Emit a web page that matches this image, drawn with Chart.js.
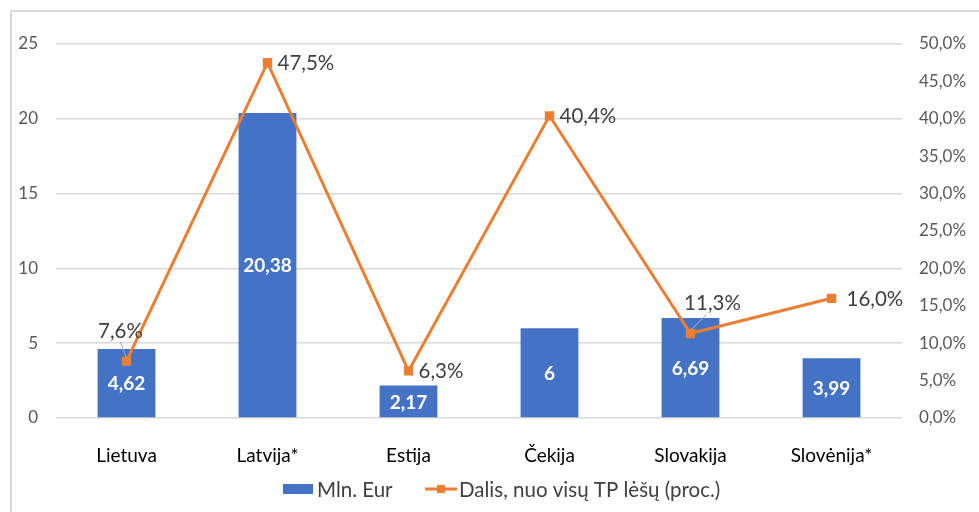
<!DOCTYPE html>
<html lang="lt">
<head>
  <meta charset="UTF-8">
  <title>Mln. Eur ir dalis nuo visų TP lėšų</title>
  <script src="https://cdn.jsdelivr.net/npm/chart.js@4.4.0/dist/chart.umd.min.js"></script>
  <style>
    body { margin: 0; background: #fff; font-family: Lato, sans-serif; }
    .frame {
      position: absolute; left: 10px; top: 10px; width: 1000px; height: 600px;
      border: 1px solid #d9d9d9; border-width: 2px 0 0 2px;
    }
    .wrap { position: absolute; left: 0; top: 0; width: 979px; height: 512px; }
  </style>
</head>
<body>
  <div class="frame"></div>
  <div class="wrap"><canvas id="chart" width="979" height="512"></canvas></div>

  <script>
    const countries = ['Lietuva', 'Latvija*', 'Estija', 'Čekija', 'Slovakija', 'Slovėnija*'];
    const mlnEur = [4.62, 20.38, 2.17, 6, 6.69, 3.99];
    const dalis = [7.6, 47.5, 6.3, 40.4, 11.3, 16.0];
    const leftTicks = [0, 5, 10, 15, 20, 25];

    const seriesNames = ['Mln. Eur', 'Dalis, nuo visų TP lėšų (proc.)'];
    const blue = '#4472C4';
    const orange = '#ED7D31';
    const textGrey = '#404040';

    // where each percentage label sits relative to its point
    const pctPlacement = ['above', 'right', 'right', 'right', 'above', 'right'];

    function fmt(v, digits) {
      return v.toFixed(digits).replace('.', ',');
    }

    const labelPlugin = {
      id: 'valueLabels',
      afterDatasetsDraw(chart) {
        const ctx = chart.ctx;
        ctx.save();
        // bar values, white bold in the middle of the bar
        const bars = chart.getDatasetMeta(1).data;
        ctx.font = 'bold 19px Lato';
        ctx.fillStyle = '#fff';
        ctx.textAlign = 'center';
        ctx.textBaseline = 'middle';
        bars.forEach((b, i) => {
          const v = mlnEur[i];
          const txt = Number.isInteger(v) ? String(v) : fmt(v, 2);
          ctx.fillText(txt, b.x, (b.y + b.base) / 2 + 1);
        });
        // line values
        const pts = chart.getDatasetMeta(0).data;
        ctx.font = '20.5px Lato';
        ctx.fillStyle = textGrey;
        pts.forEach((p, i) => {
          const txt = fmt(dalis[i], 1) + '%';
          if (pctPlacement[i] === 'right') {
            ctx.textAlign = 'left';
            ctx.fillText(txt, p.x + (i === 5 ? 15 : 10), p.y + 1);
          } else {
            const dx = i === 0 ? -6 : 22;
            const lx = p.x + dx, ly = p.y - 30;
            ctx.strokeStyle = '#a6a6a6';
            ctx.lineWidth = 1;
            ctx.beginPath();
            ctx.moveTo(lx + (i === 0 ? 0 : -6), ly + 11);
            ctx.lineTo(p.x, p.y - 3);
            ctx.stroke();
            ctx.textAlign = 'center';
            ctx.fillText(txt, lx, ly);
          }
        });
        ctx.restore();
      }
    };

    const legendPlugin = {
      id: 'bottomLegend',
      afterDraw(chart) {
        const ctx = chart.ctx;
        const y = 489;
        ctx.save();
        ctx.font = '20.5px Lato';
        ctx.fillStyle = blue;
        ctx.fillRect(283, y - 5, 30, 10);
        ctx.fillStyle = textGrey;
        ctx.textBaseline = 'middle';
        ctx.textAlign = 'left';
        ctx.fillText(seriesNames[0], 317, y + 1);
        ctx.strokeStyle = orange;
        ctx.lineWidth = 3;
        ctx.beginPath();
        ctx.moveTo(425, y);
        ctx.lineTo(457, y);
        ctx.stroke();
        ctx.fillStyle = orange;
        ctx.fillRect(437, y - 4, 8, 8);
        ctx.fillStyle = textGrey;
        ctx.fillText(seriesNames[1], 459, y + 1);
        ctx.restore();
      }
    };

    new Chart(document.getElementById('chart'), {
      data: {
        labels: countries,
        datasets: [
          {
            type: 'line',
            label: seriesNames[1],
            data: dalis,
            yAxisID: 'yPct',
            borderColor: orange,
            backgroundColor: orange,
            borderWidth: 3,
            pointStyle: 'rect',
            pointRadius: 4.5,
            pointHoverRadius: 4.5,
            tension: 0,
            order: 0
          },
          {
            type: 'bar',
            label: seriesNames[0],
            data: mlnEur,
            yAxisID: 'y',
            backgroundColor: blue,
            barPercentage: 0.41,
            categoryPercentage: 1,
            order: 1
          }
        ]
      },
      options: {
        responsive: false,
        animation: false,
        layout: { padding: { top: 44, left: 0, right: 0, bottom: 0 } },
        plugins: {
          legend: { display: false },
          tooltip: { enabled: false }
        },
        scales: {
          x: {
            grid: { display: false },
            border: { display: false },
            ticks: { color: '#000', font: { family: 'Lato', size: 19 }, padding: 18 },
            afterFit(s) { s.height = 94; }
          },
          y: {
            position: 'left',
            min: 0, max: 25,
            afterBuildTicks(s) { s.ticks = leftTicks.map(v => ({ value: v })); },
            grid: { color: '#d9d9d9', lineWidth: 1.5, drawTicks: false },
            border: { display: false },
            ticks: { color: '#595959', font: { family: 'Lato', size: 17 }, padding: 18 },
            afterFit(s) { s.width = 56; }
          },
          yPct: {
            position: 'right',
            min: 0, max: 50,
            ticks: {
              stepSize: 5,
              color: '#595959',
              font: { family: 'Lato', size: 17 },
              padding: 17,
              callback: v => fmt(v, 1) + '%'
            },
            grid: { display: false, drawTicks: false },
            border: { display: false },
            afterFit(s) { s.width = 77; }
          }
        }
      },
      plugins: [labelPlugin, legendPlugin]
    });
  </script>
</body>
</html>
